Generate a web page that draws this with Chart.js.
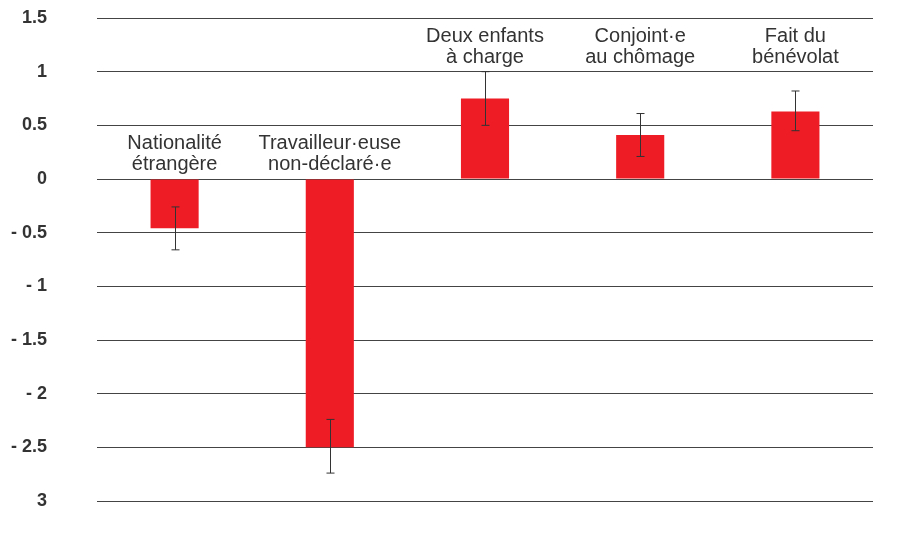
<!DOCTYPE html>
<html>
<head>
<meta charset="utf-8">
<script src="https://cdn.jsdelivr.net/npm/chart.js@4"></script>
<style>
  html, body { margin: 0; padding: 0; background: #fff; }
  #wrap { width: 903px; height: 547px; }
</style>
</head>
<body>
<div id="wrap"><canvas id="canvas"></canvas></div>
<script>
  // categories (two lines each)
  var categories = [
    ['Nationalité', 'étrangère'],
    ['Travailleur·euse', 'non-déclaré·e'],
    ['Deux enfants', 'à charge'],
    ['Conjoint·e', 'au chômage'],
    ['Fait du', 'bénévolat']
  ];
  var values = [-0.46, -2.5, 0.75, 0.41, 0.63];
  var errLow = [-0.66, -2.74, 0.5, 0.21, 0.45];
  var errHigh = [-0.26, -2.24, 1.0, 0.61, 0.82];

  var tickValues = [1.5, 1, 0.5, 0, -0.5, -1, -1.5, -2, -2.5, -3];
  var tickLabels = ['1.5', '1', '0.5', '0', '- 0.5', '- 1', '- 1.5', '- 2', '- 2.5', '3'];

  const ctx = document.getElementById('canvas').getContext('2d');

  // error bars + category labels
  const extras = {
    id: 'extras',
    afterDatasetsDraw(chart) {
      var c = chart.ctx;
      var x = chart.scales.x, y = chart.scales.y;
      c.save();
      c.strokeStyle = '#333';
      c.lineWidth = 1;
      for (var i = 0; i < values.length; i++) {
        var px = Math.round(x.getPixelForValue(i)) + 0.5;
        var y1 = y.getPixelForValue(errHigh[i]);
        var y2 = y.getPixelForValue(errLow[i]);
        c.beginPath();
        c.moveTo(px, y1); c.lineTo(px, y2);
        c.moveTo(px - 4, y1); c.lineTo(px + 4, y1);
        c.moveTo(px - 4, y2); c.lineTo(px + 4, y2);
        c.stroke();
      }
      c.fillStyle = '#333';
      c.font = '20px "Liberation Sans", Arial, sans-serif';
      c.textAlign = 'center';
      c.textBaseline = 'alphabetic';
      for (var i = 0; i < categories.length; i++) {
        var cx = x.getPixelForValue(i);
        var mid = values[i] < 0 ? y.getPixelForValue(0.25) : y.getPixelForValue(1.25);
        c.fillText(categories[i][0], cx, mid - 3);
        c.fillText(categories[i][1], cx, mid + 18);
      }
      c.restore();
    }
  };

  const config = {
    type: 'bar',
    data: {
      labels: categories.map(function(l) { return l.join(' '); }),
      datasets: [{
        data: values,
        backgroundColor: '#ee1c25',
        barPercentage: 0.31,
        categoryPercentage: 1
      }]
    },
    options: {
      maintainAspectRatio: false,
      responsive: true,
      animation: false,
      layout: { padding: { top: 18, right: 30, bottom: 46, left: 0 } },
      plugins: {
        legend: { display: false },
        tooltip: { enabled: false }
      },
      scales: {
        x: { display: false },
        y: {
          min: -3,
          max: 1.5,
          afterBuildTicks: function(s) {
            s.ticks = tickValues.map(function(v) { return { value: v }; });
          },
          afterFit: function(s) {
            s.width = 97;
            s.paddingTop = 10;
            s.paddingBottom = 10;
          },
          ticks: {
            color: '#333',
            padding: 50,
            font: { family: '"Liberation Sans", Arial, sans-serif', size: 18, weight: 'bold' },
            callback: function(v) {
              var i = tickValues.indexOf(v);
              return i >= 0 ? tickLabels[i] : '';
            }
          },
          grid: { color: '#444', lineWidth: 1, drawTicks: false },
          border: { display: false }
        }
      }
    },
    plugins: [extras]
  };

  var chart = new Chart(ctx, config);
</script>
</body>
</html>
